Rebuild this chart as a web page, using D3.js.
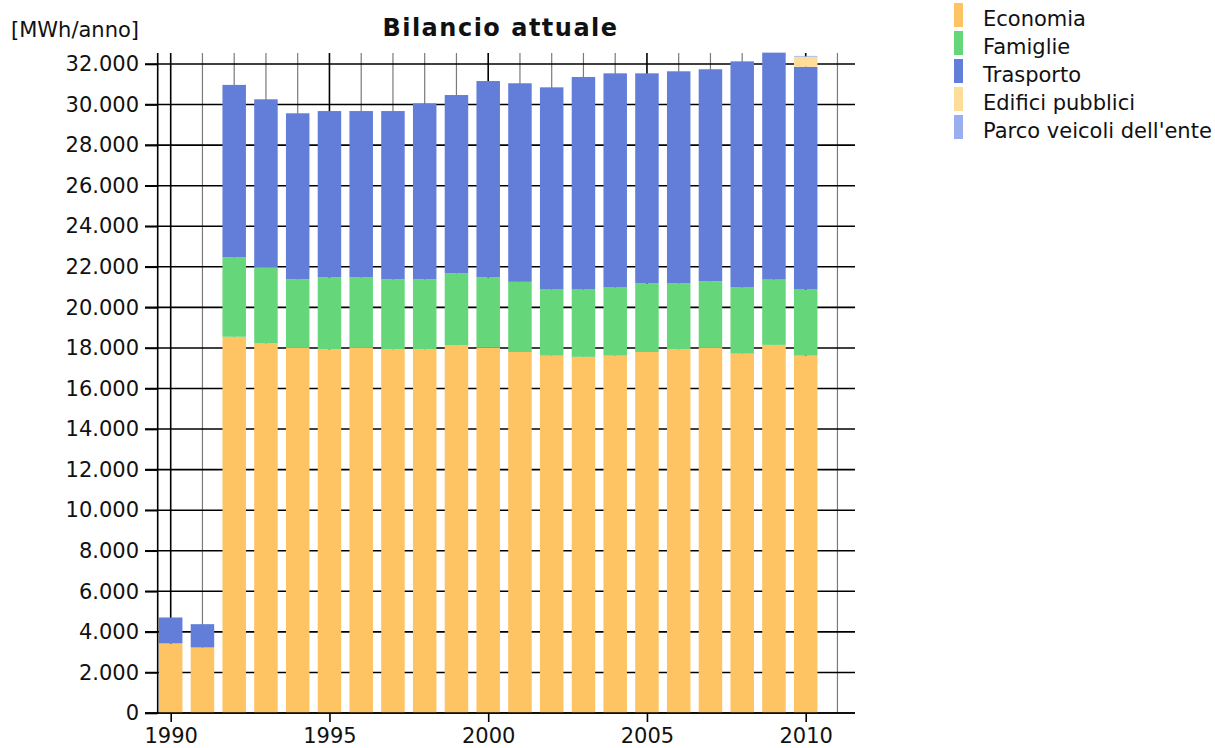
<!DOCTYPE html>
<html>
<head>
<meta charset="utf-8">
<script src="https://cdn.jsdelivr.net/npm/d3@7"></script>
<style>
  body { margin: 0; background: #fff; }
  svg text { font-family: "DejaVu Sans", sans-serif; fill: #111; }
</style>
</head>
<body>
<div id="grafico"></div>
<script>
// data (MWh/anno)
var anni = d3.range(1990, 2011)
var economia = [3430, 3230, 18550, 18220, 18000, 17930, 18000, 17930, 17930, 18140, 18010, 17800, 17620, 17560, 17620, 17800, 17930, 18000, 17720, 18150, 17620]
var famiglie = [0, 0, 3920, 3760, 3390, 3550, 3480, 3450, 3450, 3540, 3470, 3460, 3260, 3320, 3360, 3380, 3250, 3290, 3260, 3220, 3260]
var trasporto = [1280, 1150, 8500, 8280, 8180, 8200, 8200, 8300, 8680, 8790, 9680, 9790, 9970, 10480, 10560, 10360, 10460, 10450, 11150, 11190, 10980]
var edificiPubblici = [0, 0, 0, 0, 0, 0, 0, 0, 0, 0, 0, 0, 0, 0, 0, 0, 0, 0, 0, 0, 500]
var parcoVeicoli = [0, 0, 0, 0, 0, 0, 0, 0, 0, 0, 0, 0, 0, 0, 0, 0, 0, 0, 0, 0, 40]

var serie = ["Economia", "Famiglie", "Trasporto", "Edifici pubblici", "Parco veicoli dell'ente"]
var cores = ["#fec464", "#66d67b", "#637ed8", "#fedc9a", "#98aeee"]
var yTicks = d3.range(0, 32001, 2000)
var xTicks = [1990, 1995, 2000, 2005, 2010]

var width = 1215
    height = 748

var svg = d3.select("#grafico")
  .append("svg")
    .attr("width", width)
    .attr("height", height)

// scales: one year every ~31.75px, 0..32.000 between y=713 and y=64
var x = d3.scaleLinear().domain([1990, 2010]).range([170.7, 805.7])
var y = d3.scaleLinear().domain([0, 32000]).range([713, 64])
var barW = (x(1991) - x(1990)) * 0.74
var gridLeft = 145, gridRight = 855, gridTop = 53

var color = d3.scaleOrdinal().domain(serie).range(cores)

var it = d3.formatLocale({decimal: ",", thousands: ".", grouping: [3], currency: ["", "€"]})
var fmt = it.format(",d")

// table for the stack
var righe = anni.map(function(a, i) {
  var r = {anno: a}
  r[serie[0]] = economia[i]
  r[serie[1]] = famiglie[i]
  r[serie[2]] = trasporto[i]
  r[serie[3]] = edificiPubblici[i]
  r[serie[4]] = parcoVeicoli[i]
  return r
})
var stacked = d3.stack().keys(serie)(righe)

// vertical grid, one line per year (black every 5 years)
var gridYears = d3.range(1990, 2012)
svg.append("g")
  .selectAll("line")
  .data(gridYears)
  .enter()
  .append("line")
    .attr("x1", function(d) { return x(d) })
    .attr("x2", function(d) { return x(d) })
    .attr("y1", gridTop)
    .attr("y2", y(0))
    .attr("stroke", function(d) { return d % 5 == 0 ? "#000" : "#7a7a7a" })
    .attr("stroke-width", function(d) { return d % 5 == 0 ? 1.6 : 1.2 })

// horizontal grid
svg.append("g")
  .selectAll("line")
  .data(yTicks)
  .enter()
  .append("line")
    .attr("x1", gridLeft)
    .attr("x2", gridRight)
    .attr("y1", function(d) { return y(d) })
    .attr("y2", function(d) { return y(d) })
    .attr("stroke", "#000")
    .attr("stroke-width", 1.6)

// stacked bars
svg.append("g")
  .selectAll("g")
  .data(stacked)
  .enter()
  .append("g")
    .attr("fill", function(d) { return color(d.key) })
  .selectAll("rect")
  .data(function(d) { return d })
  .enter()
  .append("rect")
    .attr("x", function(d) { return x(d.data.anno) - barW / 2 })
    .attr("width", barW)
    .attr("y", function(d) { return y(d[1]) })
    .attr("height", function(d) { return y(d[0]) - y(d[1]) })

// y axis
var yAxis = svg.append("g")
  .attr("transform", "translate(157.7,0)")
  .call(d3.axisLeft(y).tickValues(yTicks).tickFormat(fmt).tickSize(12.7).tickPadding(6))
yAxis.select(".domain").remove()
yAxis.selectAll(".tick line").attr("stroke", "#000").attr("stroke-width", 1.6)
yAxis.selectAll("text").style("font-size", "21px").attr("fill", "#111")
svg.append("line")
  .attr("x1", 157.7).attr("x2", 157.7)
  .attr("y1", gridTop).attr("y2", y(0))
  .attr("stroke", "#000").attr("stroke-width", 1.6)

// x axis
var xAxis = svg.append("g")
  .attr("transform", "translate(0," + y(0) + ")")
  .call(d3.axisBottom(x).tickValues(xTicks).tickFormat(d3.format("d")).tickSize(9).tickPadding(6))
xAxis.select(".domain").remove()
xAxis.selectAll(".tick line").attr("stroke", "#000").attr("stroke-width", 1.6)
xAxis.selectAll("text").style("font-size", "21px").attr("fill", "#111")
svg.append("line")
  .attr("x1", gridLeft).attr("x2", gridRight)
  .attr("y1", y(0)).attr("y2", y(0))
  .attr("stroke", "#000").attr("stroke-width", 1.6)

// title and unit
svg.append("text")
  .attr("x", 500.5)
  .attr("y", 36)
  .attr("text-anchor", "middle")
  .style("font-size", "24px")
  .style("font-weight", "bold")
  .style("letter-spacing", "1.5px")
  .text("Bilancio attuale")

svg.append("text")
  .attr("x", 11)
  .attr("y", 37)
  .style("font-size", "21px")
  .text("[MWh/anno]")

// legend
var leg = svg.append("g")
  .selectAll("g")
  .data(serie)
  .enter()
  .append("g")
    .attr("transform", function(d, i) { return "translate(954," + (3 + i * 28) + ")" })
leg.append("rect")
  .attr("width", 9)
  .attr("height", 24)
  .attr("fill", function(d) { return color(d) })
leg.append("text")
  .attr("x", 29)
  .attr("y", 22.7)
  .style("font-size", "21px")
  .text(function(d) { return d })
</script>
</body>
</html>
